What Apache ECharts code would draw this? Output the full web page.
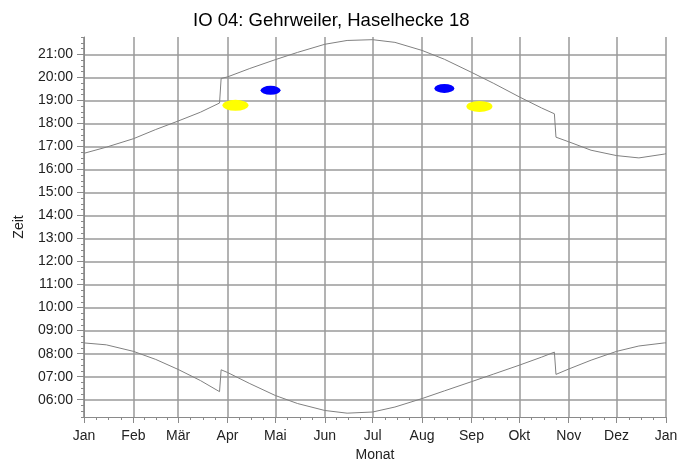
<!DOCTYPE html>
<html>
<head>
<meta charset="utf-8">
<script src="https://cdn.jsdelivr.net/npm/echarts@6/dist/echarts.min.js"></script>
<style>html,body{margin:0;padding:0;background:#fff}#c{width:695px;height:462px}</style>
</head>
<body>
<div id="c"></div>
<script>
const monthNames = ['Jan','Feb','Mär','Apr','Mai','Jun','Jul','Aug','Sep','Okt','Nov','Dez'];
const hourTicks = [6,7,8,9,10,11,12,13,14,15,16,17,18,19,20,21];

const days = ['2010-01-01','2010-01-15','2010-02-01','2010-02-15','2010-03-01','2010-03-15','2010-03-27','2010-03-28',
  '2010-04-01','2010-04-15','2010-05-01','2010-05-15','2010-06-01','2010-06-15','2010-07-01','2010-07-15',
  '2010-08-01','2010-08-15','2010-09-01','2010-09-15','2010-10-01','2010-10-15','2010-10-23','2010-10-24',
  '2010-11-01','2010-11-15','2010-12-01','2010-12-15','2010-12-31','2011-01-01'];
const sunrise = ['8:28','8:23','8:06','7:45','7:19','6:50','6:21','7:18',
  '7:11','6:42','6:11','5:50','5:32','5:25','5:28','5:41',
  '6:03','6:23','6:47','7:07','7:30','7:51','8:04','7:06',
  '7:20','7:43','8:06','8:20','8:28','8:28'];
const sunset = ['16:42','16:58','17:20','17:44','18:06','18:29','18:53','19:57',
  '20:01','20:23','20:46','21:05','21:26','21:36','21:38','21:31',
  '21:10','20:47','20:13','19:44','19:09','18:40','18:25','17:24',
  '17:12','16:50','16:36','16:30','16:40','16:41'];

const yellowDays = ['2010-04-06','2010-09-06'];
const yellowTimes = ['18:47','18:44'];
const blueDays = ['2010-04-28','2010-08-15'];
const blueTimes = ['19:26','19:31'];

function toTs(s){const p=s.split('-').map(Number);return new Date(p[0],p[1]-1,p[2]).getTime();}
function toH(t){const p=t.split(':').map(Number);return p[0]+p[1]/60;}
function pairs(ds,ts){return ds.map((d,i)=>[toTs(d),toH(ts[i])]);}

const chart = echarts.init(document.getElementById('c'));
const axisGrey = '#8a8a8a';
const font = 'Liberation Sans, Arial, sans-serif';
chart.setOption({
  animation:false,
  title:{text:'IO 04: Gehrweiler, Haselhecke 18',left:188,top:6,
    textStyle:{fontFamily:font,fontSize:18.5,fontWeight:'normal',color:'#000'}},
  grid:{left:84,right:29,top:37,bottom:45,containLabel:false,outerBoundsMode:'none'},
  xAxis:{type:'time',min:toTs('2010-01-01'),max:toTs('2011-01-01'),splitNumber:12,
    minInterval:28*86400000,maxInterval:31*86400000,
    name:'Monat',nameLocation:'middle',nameGap:27,
    nameTextStyle:{fontFamily:font,fontSize:14,color:'#222'},
    axisLine:{show:true,lineStyle:{color:axisGrey,width:1}},
    axisTick:{show:true,length:6,lineStyle:{color:axisGrey}},
    minorTick:{show:true,splitNumber:4,length:3,lineStyle:{color:axisGrey}},
    axisLabel:{fontFamily:font,fontSize:14,color:'#222',margin:12,showMinLabel:true,showMaxLabel:true,
      formatter:function(v){return monthNames[new Date(v).getMonth()];}},
    splitLine:{show:true,lineStyle:{color:'#9a9a9a',width:1.5}}
  },
  yAxis:[{type:'value',min:5.25,max:21.75,splitNumber:16,minInterval:1,maxInterval:1,
    name:'Zeit',nameLocation:'middle',nameGap:58,
    nameTextStyle:{fontFamily:font,fontSize:14,color:'#222'},
    axisLine:{show:true,lineStyle:{color:axisGrey,width:1}},
    axisTick:{show:true,length:7,lineStyle:{color:axisGrey}},
    axisLabel:{fontFamily:font,fontSize:14,color:'#222',margin:11,showMinLabel:false,showMaxLabel:false,
      formatter:function(v){if(hourTicks.indexOf(v)<0)return '';return (v<10?'0':'')+v+':00';}},
    splitLine:{show:true,showMinLine:false,showMaxLine:false,lineStyle:{color:'#9a9a9a',width:1.5}}
  },{type:'value',min:5.25,max:21.75,interval:0.25,position:'left',
    axisLine:{show:false},axisLabel:{show:false},splitLine:{show:false},
    axisTick:{show:true,length:3,lineStyle:{color:axisGrey}}
  }],
  series:[
    {type:'line',data:pairs(days,sunset),showSymbol:false,symbol:'none',lineStyle:{color:'#808080',width:1},z:3},
    {type:'line',data:pairs(days,sunrise),showSymbol:false,symbol:'none',lineStyle:{color:'#808080',width:1},z:3},
    {type:'scatter',data:pairs(yellowDays,yellowTimes),symbol:'circle',symbolSize:[26,11],itemStyle:{color:'#ffff00',opacity:1},z:4},
    {type:'scatter',data:pairs(blueDays,blueTimes),symbol:'circle',symbolSize:[20,9],itemStyle:{color:'#0000ff',opacity:1},z:4}
  ]
});
</script>
</body>
</html>
